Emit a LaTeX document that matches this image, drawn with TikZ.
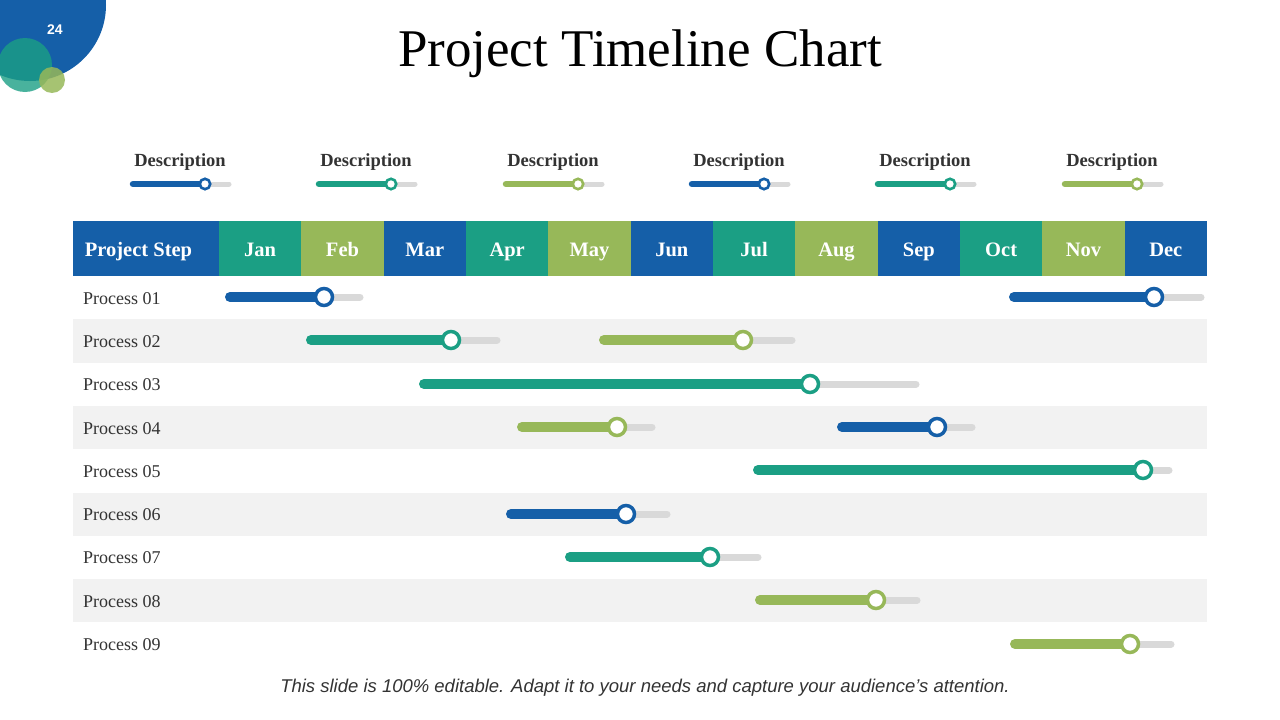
\documentclass[tikz,border=0pt]{standalone}
\usepackage{fontspec}
\setmainfont{Liberation Serif}
\setsansfont{Liberation Sans}
\usetikzlibrary{positioning}
\definecolor{stepblue}{HTML}{155FA8}
\definecolor{stepteal}{HTML}{1B9F84}
\definecolor{stepgreen}{HTML}{97B859}
\definecolor{trackgray}{HTML}{D9D9D9}
\definecolor{rowgray}{HTML}{F2F2F2}
\definecolor{darktext}{HTML}{333333}
\tikzset{
  headcell/.style={inner sep=0, text height=14, text depth=4, text=white, font=\fontsize{20.5}{24}\selectfont\bfseries},
  steplabel/.style={inner sep=0, anchor=west, text height=12, text depth=3, text=darktext, font=\fontsize{18}{20}\selectfont},
  desclabel/.style={inner sep=0, text=darktext, font=\fontsize{18.5}{22}\selectfont\bfseries}
}
% bar in a row: colour, y, start, knob, end of track
\def\progbar[#1](#2:#3:#4:#5){
  \draw[line width=7, line cap=round, color=trackgray] (#3, #2) -- (#5, #2);
  \draw[line width=10, line cap=round, color=#1] (#3, #2) -- (#4, #2);
  \draw[line width=3.5, color=#1, fill=white] (#4, #2) circle (8.5);
}
% small slider under a description
\def\minibar[#1](#2:#3){
  \draw[line width=5, line cap=round, color=trackgray] ({#2-47}, #3) -- ({#2+49}, #3);
  \draw[line width=6.5, line cap=round, color=#1] ({#2-47}, #3) -- ({#2+25}, #3);
  \draw[line width=2.6, color=#1, fill=white] ({#2+25}, #3) circle (5.2);
}

\begin{document}
\begin{tikzpicture}[x=1pt, y=-1pt]
  %%%%% START %%%%%
  \useasboundingbox (0, 0) rectangle (1280, 720);
  \clip (0, 0) rectangle (1280, 720);

  \fill[stepblue] (30, 5) circle (76);
  \fill[stepteal, opacity=0.8] (25, 65) circle (27);
  \fill[stepgreen, opacity=0.85] (52, 80) circle (13);
  \node[text=white, font=\sffamily\bfseries\fontsize{14}{16}\selectfont] (pagenum) at (55, 30) {24};

  \node[font=\fontsize{53}{58}\selectfont] (title) at (640, 54) {Project Timeline Chart};

  % descriptions
  \foreach \x/\c [count=\i] in {180/stepblue, 366/stepteal, 553/stepgreen, 739/stepblue, 925/stepteal, 1112/stepgreen} {
    \node[desclabel] (d\i) at (\x, 162) {Description};
    \minibar[\c](\x:184)
  }

  % header
  \fill[stepblue] (73, 221) rectangle (219, 276);
  \node[headcell] (stephead) at (138.5, 251) {Project Step};
  \foreach \m/\c [count=\i] in {Jan/stepteal, Feb/stepgreen, Mar/stepblue, Apr/stepteal, May/stepgreen, Jun/stepblue,
                                Jul/stepteal, Aug/stepgreen, Sep/stepblue, Oct/stepteal, Nov/stepgreen, Dec/stepblue} {
    \fill[\c] ({219+82.33*(\i-1)}, 221) rectangle ({219+82.33*\i}, 276);
    \node[headcell] (m\i) at ({219+82.33*(\i-0.5)}, 251) {\m};
  }

  % rows
  \foreach \r in {2, 4, 6, 8} {
    \fill[rowgray] (73, {276+43.3*(\r-1)}) rectangle (1207, {276+43.3*\r});
  }
  \foreach \r in {1, ..., 9} {
    \node[steplabel] (p\r) at (83, {278+43.3*(\r-0.5)}) {Process 0\r};
  }

  \progbar[stepblue](297:230:324:360)
  \progbar[stepblue](297:1014:1154:1201)
  \progbar[stepteal](340:311:451:497)
  \progbar[stepgreen](340:604:743:792)
  \progbar[stepteal](384:424:810:916)
  \progbar[stepgreen](427:522:617:652)
  \progbar[stepblue](427:842:937:972)
  \progbar[stepteal](470:758:1143:1169)
  \progbar[stepblue](514:511:626:667)
  \progbar[stepteal](557:570:710:758)
  \progbar[stepgreen](600:760:876:917)
  \progbar[stepgreen](644:1015:1130:1171)

  \node[font=\sffamily\itshape\fontsize{18.5}{22}\selectfont, text=darktext] (note) at (645, 688)
    {This slide is 100\% editable. Adapt it to your needs and capture your audience's attention.};
  %%%%% END %%%%%
\end{tikzpicture}
\end{document}
